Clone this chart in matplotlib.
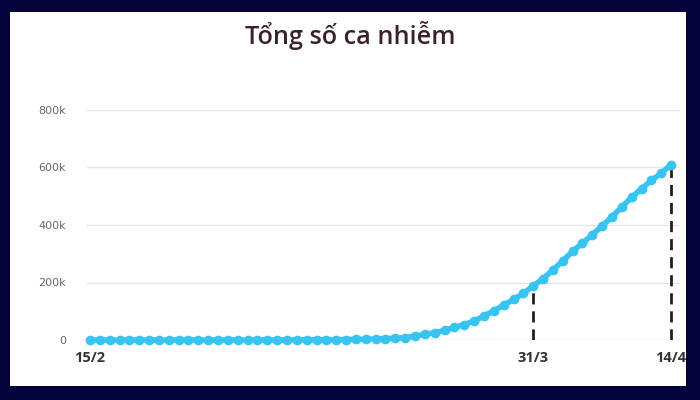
import matplotlib
matplotlib.use("Agg")
import matplotlib.pyplot as plt

# Data: cumulative cases 15/2 .. 14/4 (60 days)
dates = (["%d/2" % d for d in range(15, 30)] +
         ["%d/3" % d for d in range(1, 32)] +
         ["%d/4" % d for d in range(1, 15)])
cases = [13, 13, 13, 13, 13, 13, 15, 15, 15, 51, 51, 57, 58, 60, 68,
         74, 98, 118, 149, 217, 262, 402, 518, 583, 959, 1281, 1663, 2179, 2727, 3499,
         4632, 6421, 7783, 13747, 19273, 25600, 33276, 43847, 53740, 65778, 83836,
         101657, 121478, 140886, 161807, 188172,
         213242, 243622, 275367, 308650, 336802, 366317, 397121, 428654, 462780,
         496535, 526396, 555313, 580619, 610000]
xtick_labels = ["15/2", "31/3", "14/4"]
marked_dates = ["31/3", "14/4"]
yticks = [0, 200000, 400000, 600000, 800000]
ytick_labels = ["0", "200k", "400k", "600k", "800k"]
title = "Tổng số ca nhiễm"

fig = plt.figure(figsize=(7, 4), dpi=100)
fig.patch.set_facecolor("#03033a")
bg = fig.add_axes([10/700, 14/400, 676/700, 374/400], zorder=-1)
bg.set_facecolor("white")
bg.set_xticks([]); bg.set_yticks([])
for s in bg.spines.values():
    s.set_visible(False)

ax = fig.add_axes([87/700, 60/400, 593/700, 230/400], zorder=1)
ax.set_facecolor("none")
x = list(range(len(dates)))
ax.set_xlim(-0.3, 59.9)
ax.set_ylim(0, 800000)

for yt in yticks:
    ax.axhline(yt, color="#cccccc" if yt == 0 else "#e6e6e6", lw=1, zorder=1)

for d in marked_dates:
    i = dates.index(d)
    ax.plot([i, i], [0, cases[i]], color="#2a1c1c", lw=2, ls=(0, (4, 2.5)), zorder=2)

ax.plot(x, cases, color="#38c4f0", lw=4, marker="o", markersize=7,
        markeredgewidth=0, clip_on=False, zorder=3)

ax.set_yticks(yticks)
ax.set_yticklabels(ytick_labels, fontsize=8, color="#666666", family="DejaVu Sans")
ax.tick_params(axis="y", length=0, pad=15)
ax.set_xticks([dates.index(d) for d in xtick_labels])
ax.set_xticklabels(xtick_labels, fontsize=10.5, fontweight="bold", color="#333333",
                   family="Open Sans")
ax.tick_params(axis="x", length=0, pad=8)
for s in ax.spines.values():
    s.set_visible(False)

fig.text(0.5, 1 - 35/400, title, ha="center", va="center", fontsize=18.2,
         fontweight="semibold", color="#3a2326", family="Open Sans")

fig.savefig("out.png", dpi=100, facecolor=fig.get_facecolor())
